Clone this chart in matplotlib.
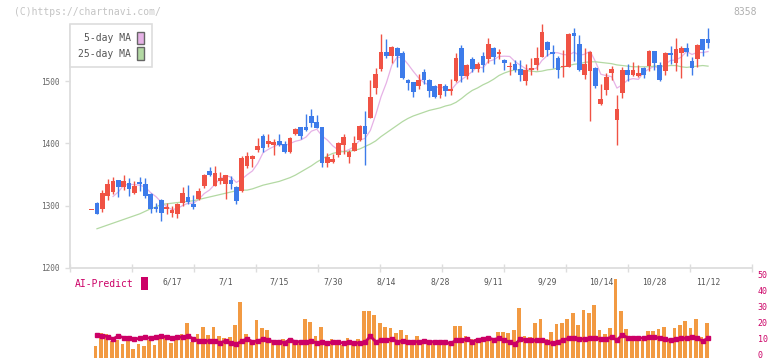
import numpy as np
import pandas as pd
import matplotlib
matplotlib.use("Agg")
import matplotlib.pyplot as plt
import matplotlib.transforms as mtransforms
from matplotlib.patches import Patch

# ---------------- data ----------------
opens = [1293, 1304, 1295, 1316, 1322, 1341, 1330, 1336, 1320, 1338,
         1335, 1319, 1298, 1309, 1295, 1288, 1287, 1304, 1314, 1303,
         1311, 1332, 1356, 1332, 1340, 1335, 1341, 1330, 1324, 1363,
         1375, 1389, 1412, 1399, 1397, 1404, 1399, 1386, 1415, 1426,
         1426, 1444, 1434, 1426, 1369, 1370, 1381, 1397, 1378, 1388,
         1405, 1428, 1441, 1489, 1519, 1547, 1540, 1553, 1545, 1502,
         1498, 1492, 1515, 1502, 1492, 1478, 1492, 1484, 1500, 1553,
         1508, 1535, 1519, 1540, 1535, 1553, 1544, 1534, 1522, 1527,
         1519, 1500, 1518, 1526, 1539, 1563, 1547, 1537, 1522, 1523,
         1577, 1560, 1510, 1516, 1521, 1463, 1486, 1513, 1438, 1481,
         1518, 1510, 1508, 1521, 1524, 1548, 1526, 1516, 1545, 1529,
         1545, 1553, 1532, 1535, 1567, 1567]
highs = [1293, 1306, 1325, 1343, 1346, 1341, 1349, 1344, 1340, 1346,
         1344, 1320, 1304, 1310, 1304, 1300, 1304, 1330, 1333, 1317,
         1328, 1351, 1362, 1364, 1354, 1350, 1348, 1332, 1380, 1386,
         1381, 1409, 1415, 1415, 1407, 1415, 1404, 1410, 1425, 1427,
         1447, 1455, 1446, 1427, 1385, 1383, 1402, 1415, 1389, 1412,
         1429, 1452, 1502, 1521, 1576, 1567, 1556, 1554, 1548, 1503,
         1499, 1511, 1519, 1503, 1493, 1496, 1495, 1503, 1545, 1558,
         1527, 1539, 1531, 1547, 1569, 1554, 1551, 1535, 1531, 1534,
         1534, 1527, 1537, 1555, 1592, 1564, 1558, 1540, 1550, 1577,
         1585, 1574, 1553, 1548, 1522, 1495, 1513, 1524, 1478, 1523,
         1527, 1531, 1526, 1523, 1550, 1549, 1531, 1546, 1556, 1569,
         1556, 1561, 1539, 1559, 1568, 1585]
lows = [1293, 1286, 1290, 1309, 1319, 1314, 1325, 1316, 1319, 1324,
        1312, 1288, 1290, 1275, 1287, 1282, 1280, 1300, 1303, 1295,
        1309, 1328, 1348, 1331, 1335, 1311, 1327, 1303, 1322, 1361,
        1362, 1386, 1386, 1394, 1381, 1396, 1385, 1385, 1413, 1407,
        1420, 1426, 1424, 1362, 1362, 1369, 1378, 1383, 1369, 1387,
        1404, 1365, 1440, 1479, 1517, 1537, 1529, 1523, 1504, 1486,
        1474, 1487, 1495, 1474, 1473, 1473, 1476, 1478, 1499, 1499,
        1503, 1515, 1515, 1515, 1529, 1527, 1535, 1518, 1510, 1515,
        1500, 1494, 1510, 1518, 1538, 1540, 1521, 1505, 1507, 1522,
        1532, 1517, 1503, 1436, 1489, 1462, 1478, 1502, 1397, 1473,
        1500, 1508, 1507, 1505, 1516, 1518, 1500, 1510, 1527, 1516,
        1505, 1540, 1510, 1523, 1540, 1553]
closes = [1293, 1286, 1320, 1335, 1340, 1330, 1340, 1327, 1332, 1335,
          1316, 1295, 1295, 1288, 1298, 1293, 1303, 1320, 1306, 1298,
          1324, 1349, 1349, 1352, 1344, 1349, 1335, 1307, 1377, 1380,
          1380, 1396, 1393, 1404, 1402, 1397, 1386, 1409, 1423, 1412,
          1421, 1433, 1425, 1369, 1378, 1375, 1401, 1410, 1386, 1401,
          1428, 1415, 1474, 1511, 1547, 1540, 1555, 1540, 1505, 1497,
          1482, 1502, 1502, 1484, 1474, 1495, 1484, 1487, 1537, 1508,
          1526, 1519, 1527, 1526, 1560, 1539, 1546, 1529, 1524, 1518,
          1510, 1518, 1521, 1537, 1579, 1550, 1543, 1518, 1523, 1576,
          1572, 1518, 1527, 1547, 1492, 1471, 1507, 1519, 1455, 1518,
          1510, 1518, 1513, 1510, 1548, 1529, 1502, 1545, 1542, 1551,
          1553, 1547, 1521, 1558, 1550, 1561]
# 25-day moving average as drawn (includes days before the window)
ma25 = [np.nan,
        1263, 1266, 1269, 1272, 1275, 1278, 1281, 1284, 1287, 1291,
        1295, 1298, 1302, 1303, 1304, 1305, 1306, 1307, 1308, 1310,
        1312, 1314, 1316, 1318, 1320, 1322, 1324, 1325, 1325, 1327,
        1330, 1333, 1335, 1337, 1339, 1342, 1345, 1349, 1354, 1359,
        1364, 1370, 1375, 1380, 1384, 1386, 1387, 1387, 1389, 1391,
        1395, 1399, 1404, 1411, 1417, 1423, 1429, 1435, 1440, 1444,
        1447, 1450, 1453, 1455, 1457, 1460, 1462, 1466, 1472, 1479,
        1485, 1489, 1494, 1498, 1503, 1509, 1513, 1516, 1518, 1518,
        1517, 1516, 1515, 1516, 1518, 1519, 1521, 1523, 1525, 1527,
        1528, 1530, 1531, 1531, 1530, 1529, 1528, 1526, 1525, 1524,
        1523, 1523, 1523, 1523, 1524, 1524, 1524, 1525, 1525, 1523,
        1522, 1523, 1524, 1525, 1524]
# lower panel (from the 2nd day on)
volume = [7.5, 15.4, 14.8, 10.6, 11.0, 8.6, 11.4, 5.4, 8.6, 7.3,
          11.0, 7.9, 12.3, 12.5, 9.2, 11.4, 14.8, 21.7, 9.8, 14.8,
          19.2, 14.2, 19.2, 13.6, 12.3, 12.9, 20.4, 34.8, 14.8, 9.8,
          23.6, 18.6, 17.3, 10.4, 9.8, 11.7, 11.7, 11.0, 10.2, 24.4,
          22.5, 13.6, 19.2, 7.9, 11.7, 8.6, 7.9, 12.3, 8.6, 11.7,
          29.2, 29.2, 26.7, 21.7, 19.2, 18.6, 15.4, 17.3, 14.2, 11.0,
          13.6, 11.0, 8.6, 9.2, 10.4, 7.9, 8.6, 19.8, 19.8, 13.6,
          11.7, 11.7, 9.8, 11.0, 11.7, 15.9, 15.9, 15.4, 17.3, 31.1,
          13.6, 12.9, 21.7, 24.4, 11.7, 15.9, 21.1, 21.7, 24.4, 27.9,
          20.4, 29.8, 27.9, 32.9, 17.3, 14.8, 18.6, 49.2, 29.2, 17.9,
          13.6, 12.9, 11.0, 16.7, 16.7, 17.9, 19.2, 10.4, 18.6, 20.4,
          22.9, 18.6, 24.4, 12.9, 21.7]
ai_predict = [14.2, 13.8, 13.2, 11.7, 13.6, 12.5, 12.5, 11.7, 12.1, 12.7,
              12.1, 12.7, 13.8, 12.7, 12.1, 12.9, 12.9, 13.6, 11.7, 10.4,
              10.4, 10.4, 10.2, 9.4, 10.4, 9.2, 8.4, 10.4, 11.7, 10.0,
              10.5, 11.5, 10.8, 10.0, 10.0, 9.4, 11.3, 10.0, 10.0, 10.0,
              10.4, 9.2, 9.6, 9.2, 9.6, 9.6, 9.2, 9.6, 9.2, 9.2,
              9.6, 13.4, 10.0, 10.8, 10.8, 11.7, 10.0, 10.4, 10.0, 10.0,
              10.0, 10.4, 10.0, 10.0, 10.0, 9.6, 9.0, 10.8, 10.8, 11.7,
              10.0, 11.3, 11.7, 12.5, 11.3, 12.1, 11.0, 9.6, 8.4, 11.7,
              11.0, 10.8, 10.8, 10.8, 9.6, 9.0, 10.0, 11.0, 12.1, 12.1,
              11.7, 11.7, 12.1, 12.1, 11.7, 11.7, 12.9, 11.0, 14.2, 12.5,
              12.1, 12.5, 12.1, 12.9, 12.9, 12.1, 11.7, 10.8, 11.7, 12.1,
              12.1, 12.9, 12.1, 10.4, 12.1]
date_labels = ["6/17", "7/1", "7/15", "7/30", "8/14", "8/28", "9/11",
               "9/29", "10/14", "10/28", "11/12"]
date_index = [15, 25, 35, 45, 55, 65, 75, 85, 95, 105, 115]
price_ticks = [1200, 1300, 1400, 1500]
ai_ticks = [0, 10, 20, 30, 40, 50]

# ---------------- style ----------------
plt.rcParams["font.family"] = ["DejaVu Sans Mono"]
UP, DOWN = "#f05244", "#3d7bea"
MA5_C, MA25_C = "#e6b2e6", "#b3d9a3"
AI_C, VOL_C = "#cc0066", "#f29a42"
GRID_C = "#dddddd"

W, H = 772, 361
fig = plt.figure(figsize=(W / 100, H / 100), dpi=100)


def frac(x0, y0, x1, y1):
    return [x0 / W, 1 - y1 / H, (x1 - x0) / W, (y1 - y0) / H]


XLIM = (-4.03, 123.2)

# ---------------- main price panel ----------------
ax = fig.add_axes(frac(70, 18.8, 752, 268))
n = len(closes)
idx = np.arange(n)
o = np.array(opens, float)
c = np.array(closes, float)
hi = np.array(highs, float)
lo = np.array(lows, float)
cols = [UP if cc >= oo else DOWN for oo, cc in zip(o, c)]

ma5 = pd.Series(c).rolling(5).mean()
ax.plot(idx, ma5, color=MA5_C, lw=0.9, zorder=1)
ax.plot(idx, ma25, color=MA25_C, lw=0.9, zorder=1)

ax.vlines(idx, lo, hi, colors=cols, lw=1.0, zorder=2)
body_lo = np.minimum(o, c)
body_h = np.maximum(np.abs(c - o), 1.5)
ax.bar(idx, body_h, bottom=body_lo, width=0.88, color=cols, lw=0, zorder=3)

ax.set_xlim(*XLIM)
ax.set_ylim(1200, 1600)
ax.set_yticks(price_ticks)
ax.set_xticks(np.linspace(XLIM[0], XLIM[1], 12))
ax.set_xticklabels([])
ax.tick_params(axis="y", direction="out", length=3.6, width=1.0,
               color=GRID_C, labelcolor="#666666", labelsize=5.6, pad=4)
ax.tick_params(axis="x", direction="inout", length=6, width=1.0,
               color=GRID_C)
for s in ("top", "right"):
    ax.spines[s].set_visible(False)
for s in ("left", "bottom"):
    ax.spines[s].set_color(GRID_C)
    ax.spines[s].set_linewidth(1.3)
ax.spines["left"].set_bounds(1200, 1590)
ax.set_facecolor("none")

handles = [Patch(facecolor=MA5_C, edgecolor="#666666", lw=1.0),
           Patch(facecolor=MA25_C, edgecolor="#666666", lw=1.0)]
leg = ax.legend(handles, ["5-day MA", "25-day MA"], loc="upper left",
                bbox_to_anchor=(70 / W, 1 - 24 / H),
                bbox_transform=fig.transFigure, borderaxespad=0,
                markerfirst=False, fontsize=7, handlelength=0.69,
                handleheight=1.6, handletextpad=0.69, labelspacing=0.3,
                borderpad=0.8, fancybox=False, framealpha=1,
                edgecolor=GRID_C, labelcolor="#555555")
leg.get_frame().set_linewidth(1.2)

# ---------------- lower panel ----------------
ax2 = fig.add_axes(frac(70, 270, 752, 361))
vidx = np.arange(1, n)
ax2.bar(vidx - 0.25, volume, width=0.7, color=VOL_C, lw=0, zorder=1)
ax2.plot(vidx, ai_predict, color=AI_C, lw=2.0, marker="s", ms=2.6,
         zorder=2, solid_joinstyle="miter")
ax2.set_xlim(*XLIM)
ax2.set_ylim(-2.06, 54.8)
ax2.yaxis.tick_right()
ax2.set_yticks(ai_ticks)
ax2.tick_params(axis="y", length=0, pad=4, labelcolor=AI_C, labelsize=6)
shift_up = mtransforms.ScaledTranslation(0, 2.5 / 72, fig.dpi_scale_trans)
for lbl in ax2.get_yticklabels():
    lbl.set_transform(lbl.get_transform() + shift_up)
ax2.set_xticks([])
for s in ax2.spines.values():
    s.set_visible(False)
ax2.set_facecolor("none")
for pos, lab in zip(date_index, date_labels):
    ax2.text(pos, 47.3, lab, ha="center", va="center", fontsize=5.8,
             color="#555555")

leg2 = ax2.legend([Patch(facecolor=AI_C, edgecolor="none")], ["AI-Predict"],
                  loc="upper left", bbox_to_anchor=(75 / W, 1 - 277 / H),
                  bbox_transform=fig.transFigure, borderaxespad=0,
                  borderpad=0, markerfirst=False, fontsize=7,
                  handlelength=0.72, handleheight=1.65, handletextpad=0.72,
                  frameon=False, labelcolor=AI_C)

# ---------------- header texts ----------------
fig.text(14 / W, 1 - 12 / H, "(C)https://chartnavi.com/", fontsize=7,
         color="#c4c4c4", ha="left", va="center")
fig.text(757 / W, 1 - 12 / H, "8358", fontsize=7, color="#b0b0b0",
         ha="right", va="center")

fig.savefig("out.png", dpi=100)
